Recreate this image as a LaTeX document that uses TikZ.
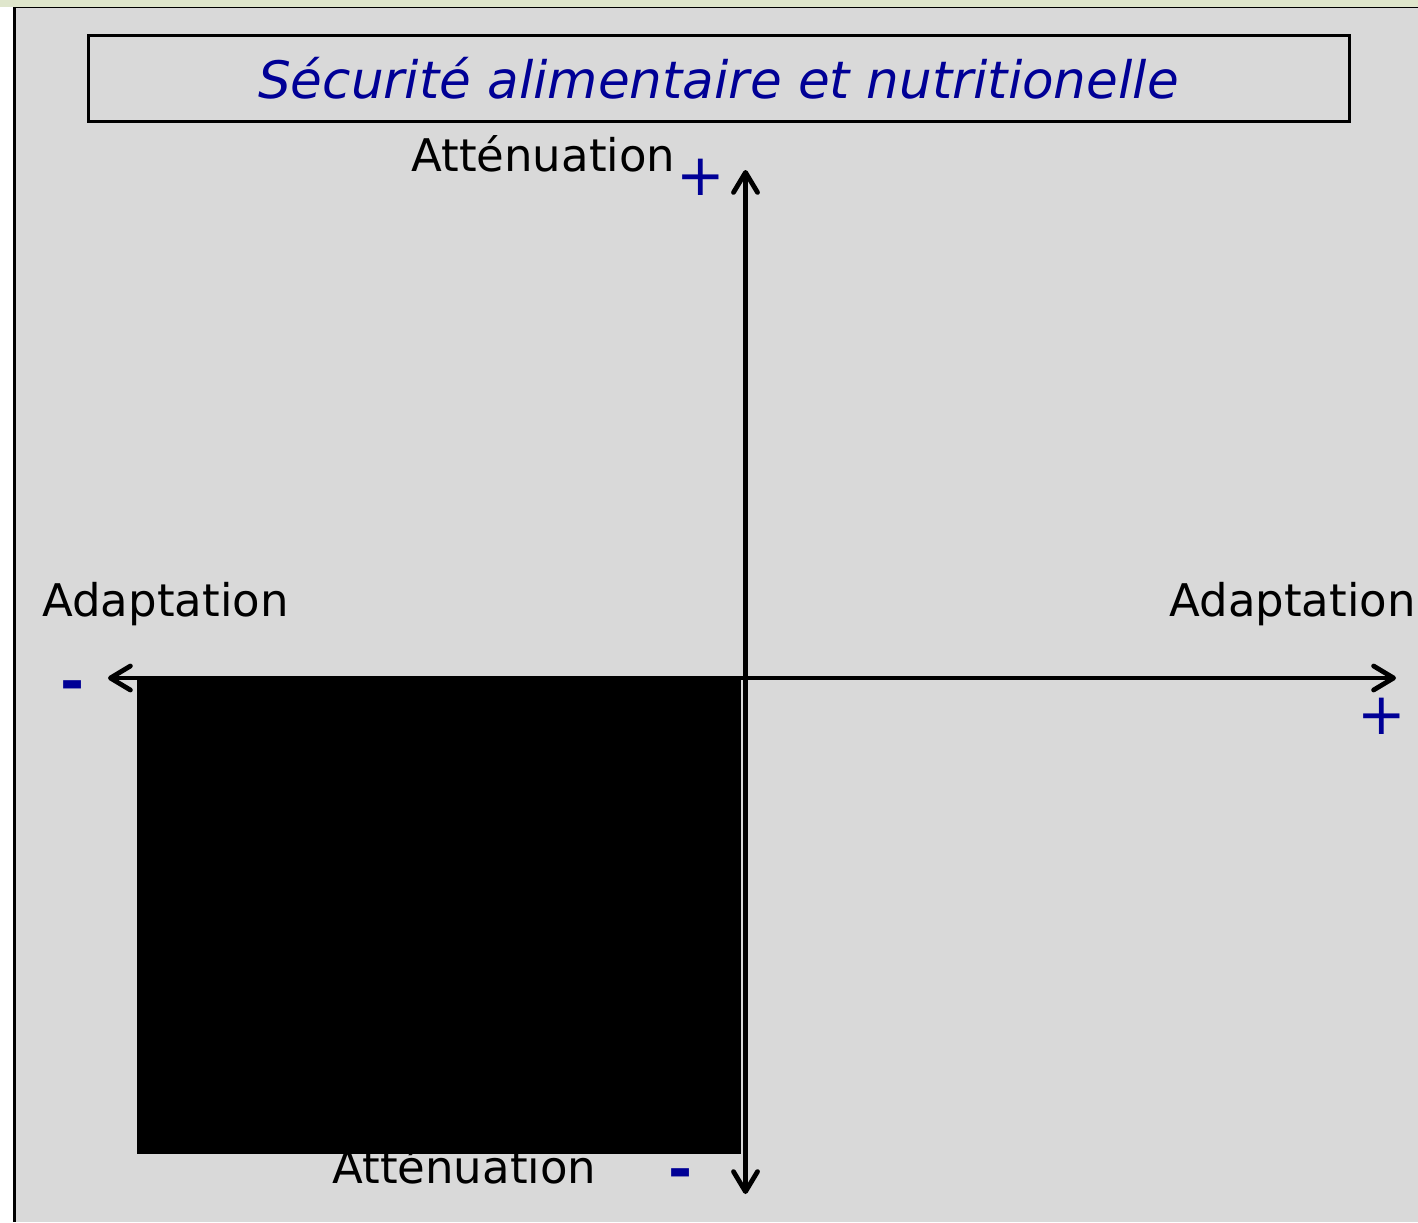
\documentclass[tikz,border=0pt]{standalone}
\usepackage{fontspec}
\setmainfont{DejaVu Sans}
\usetikzlibrary{arrows.meta}
\definecolor{panel}{HTML}{D9D9D9}
\definecolor{navy}{RGB}{0,0,150}
\definecolor{topband}{HTML}{DFE6CC}
\tikzset{
  label/.style={inner sep=0pt, anchor=base west, font=\fontsize{22.5pt}{26pt}\selectfont},
  sign/.style={inner sep=0pt, anchor=base, text=navy, font=\fontsize{29pt}{33pt}\selectfont},
  minus/.style={inner sep=0pt, anchor=base, text=navy, font=\fontsize{29pt}{33pt}\selectfont\bfseries},
  axis/.style={line width=2.4pt, line cap=round, line join=round,
    {Straight Barb[length=10pt,width=12pt,line cap=round,line join=round]}-{Straight Barb[length=10pt,width=12pt,line cap=round,line join=round]}},
}
\begin{document}
\begin{tikzpicture}[x=0.5pt,y=-0.5pt]
\useasboundingbox (0,0) rectangle (1418,1222);
% frame: pale band on top, white margin on the left, grey panel
\fill[topband] (0,0) rectangle (1418,7);
\fill[white] (0,7) rectangle (13,1222);
\fill[panel] (13,7) rectangle (1418,1222);
\draw[line width=0.8pt] (13,7.5) -- (1418,7.5);
\draw[line width=1.5pt] (14.5,7) -- (14.5,1222);

% title box
\node[draw, line width=1.5pt, minimum width=630.5pt, minimum height=43pt, inner sep=0pt,
      text=navy, font=\fontsize{25.8pt}{30pt}\selectfont\itshape] (title) at (718.5,78)
      {\raisebox{0.5pt}{Sécurité alimentaire et nutritionelle}};

% axis labels
\node[label] (att-top) at (411,171) {Atténuation};
\node[label] (ad-left) at (42,616) {Adaptation};
\node[label] (ad-right) at (1169,616) {Adaptation};
\node[label] (att-bot) at (332,1183) {Atténuation};

% signs
\node[sign] (plus-top) at (701,195) {+};
\node[sign] (plus-right) at (1382,734) {+};
\node[minus] (minus-left) at (73,701) {-};
\node[minus] (minus-bot) at (681,1189) {-};

% black quadrant block
\fill[black] (137,676) rectangle (741,1154);

% axes
\coordinate (xl) at (108,678);
\coordinate (xr) at (1396,678);
\coordinate (yt) at (745.5,170);
\coordinate (yb) at (745.5,1194);
\draw[axis] (xl) -- (xr);
\draw[axis] (yb) -- (yt);
\end{tikzpicture}
\end{document}
